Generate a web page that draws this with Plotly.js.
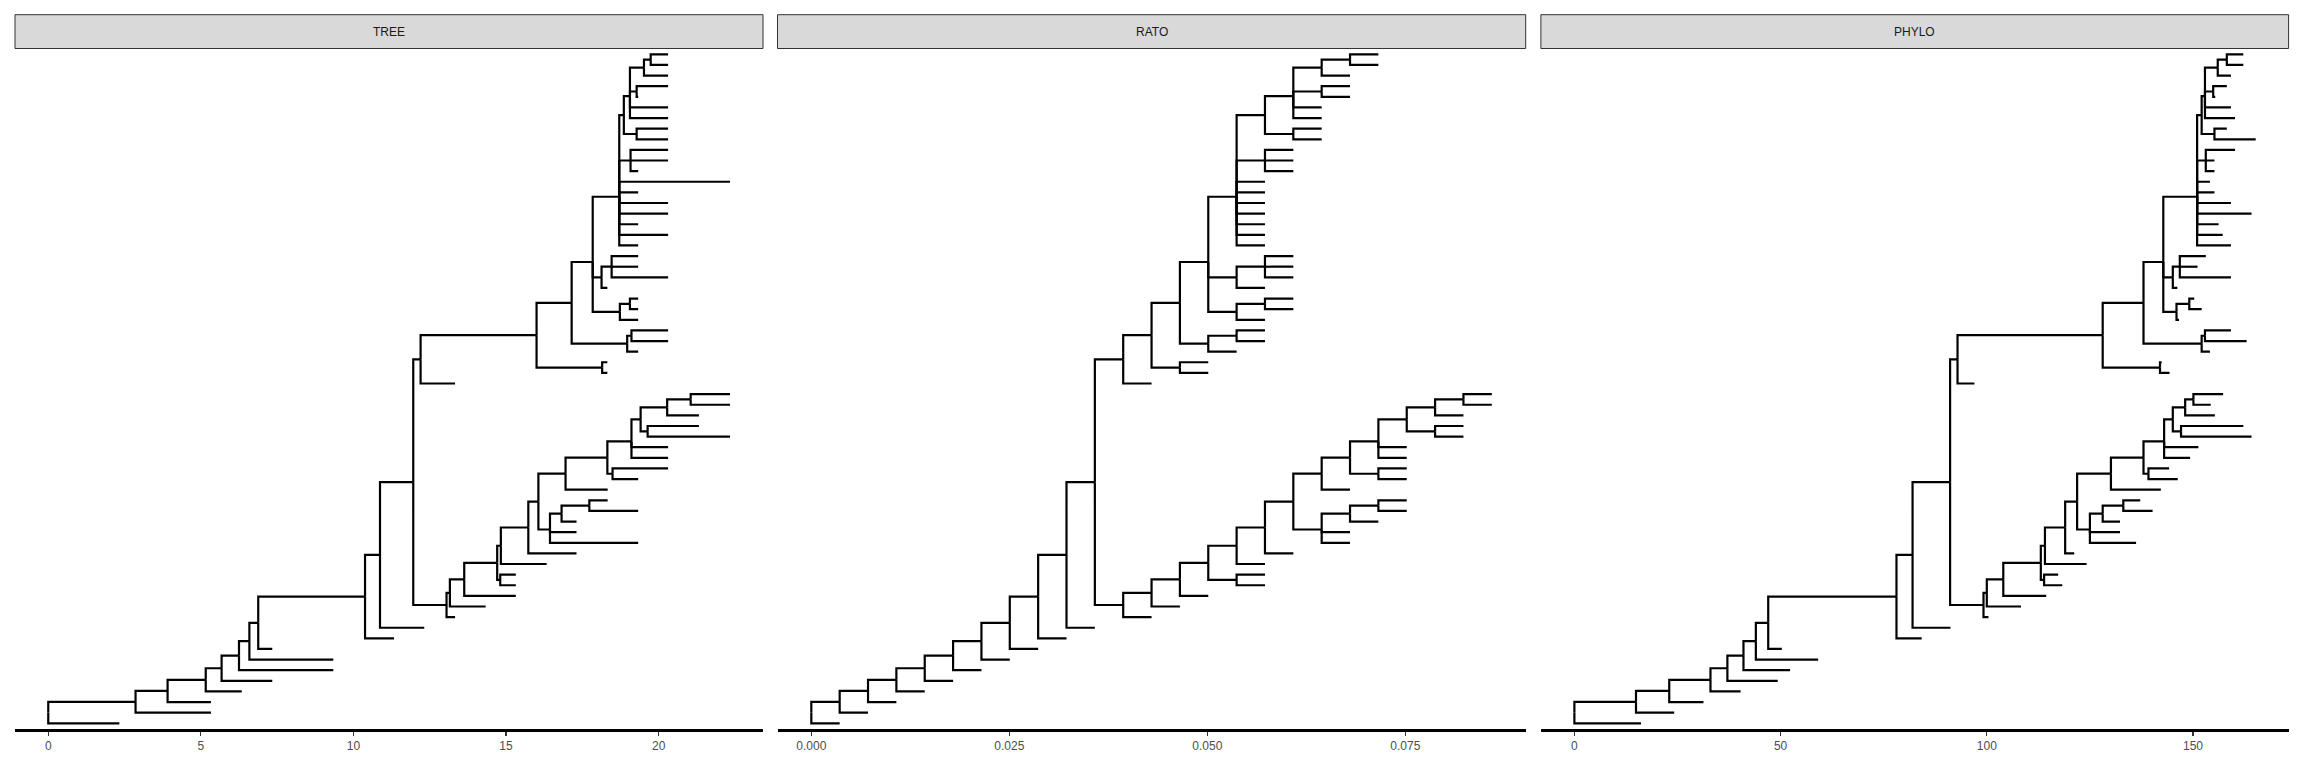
<!DOCTYPE html>
<html><head><meta charset="utf-8">
<script src="https://cdn.plot.ly/plotly-3.0.1.min.js"></script>
<style>html,body{margin:0;padding:0;background:#fff}</style>
</head><body><div id="chart" style="width:2304px;height:768px"></div>
<script>
// ---- tree topology (node name -> parent) ----
const nodes = [
'root','t1','A','t2','B','t3','C','t4','D','t5','E','t6','F','t7','G','t8','H','t9','I','t10','J',
'K','t11','L','t12','M','t13','N','O','t14','t15','P','t16','Q','t17','R','S','t18','t19','T','t20','n2122','t21','t22','W','t23','X','n2425','t24','t25','Y','t26','t27','Z','n2829','t28','t29','n3032','t30','n3132','t31','t32',
'V','t33','U','N968','t34','t35','N773','N896','t36','N872','t37','t38','N651','N801','t39','N778','t40','t41','N698','t42','N666','t43','t44','t45','N455','t46','t47','t48','t49','t50','t51','t52','N348','t53','t54','t55','N211','N268','t56','t57','N154','t58','t59','N140','t60','t61','N68','t62','N44','t63','t64'
];
const parents = [
'','root','root','A','A','B','B','C','C','D','D','E','E','F','F','G','G','H','H','I','I',
'J','K','K','L','L','M','M','N','O','O','N','P','P','Q','Q','R','S','S','S','T','T','n2122','n2122','R','W','W','X','n2425','n2425','X','Y','Y','Y','Z','n2829','n2829','Z','n3032','n3032','n3132','n3132',
'J','V','V','U','N968','N968','U','N773','N896','N896','N872','N872','N773','N651','N801','N801','N778','N778','N651','N698','N698','N666','N666','N666','N651','N455','N455','N455','N455','N455','N455','N455','N455','N348','N348','N348','N455','N211','N268','N268','N211','N154','N154','N154','N140','N140','N154','N68','N68','N44','N44'
];
// tips from bottom (y=1) to top
const tip_order = ['t1','t2','t3','t4','t5','t6','t7','t8','t9','t10','t11','t12','t13','t14','t15','t16','t17','t18','t19','t20','t21','t22','t23','t24','t25','t26','t27','t28','t29','t30','t31','t32','t33','t34','t35','t36','t37','t38','t39','t40','t41','t42','t43','t44','t45','t46','t47','t48','t49','t50','t51','t52','t53','t54','t55','t56','t57','t58','t59','t60','t61','t62','t63','t64'];

// ---- node x positions per panel ----
const tree_x = [
0,2.33,2.86,5.33,3.91,5.33,5.16,6.34,5.68,7.34,6.25,9.34,6.59,9.34,6.88,7.34,10.38,11.33,10.87,12.32,11.96,
13.05,13.33,13.16,14.33,13.63,15.32,14.71,14.81,15.32,15.32,14.83,16.33,15.73,17.31,16.06,16.44,19.33,17.31,16.82,17.31,17.73,19.33,18.33,16.95,18.33,18.32,18.49,19.33,20.31,19.11,20.31,20.31,19.41,19.64,22.34,21.32,20.28,21.32,21.05,22.34,22.34,
12.2,13.33,16.0,18.15,18.32,18.32,17.15,18.97,19.33,19.11,20.31,20.31,17.84,18.73,19.33,19.06,19.33,19.33,18.13,18.32,18.46,20.31,19.33,19.33,18.71,19.33,20.31,19.33,20.31,20.31,19.33,22.34,19.08,19.33,20.31,20.31,18.86,19.28,20.31,20.31,19.06,20.31,20.31,19.28,19.33,20.31,19.52,20.31,19.74,20.31,20.31
];
const rato_x = [
0,0.00358,0.00358,0.00716,0.00716,0.01074,0.01074,0.01432,0.01432,0.0179,0.0179,0.02148,0.02148,0.02506,0.02506,0.02864,0.02864,0.03222,0.03222,0.0358,0.0358,
0.03938,0.04296,0.04296,0.04654,0.04654,0.05012,0.05012,0.0537,0.05728,0.05728,0.0537,0.05728,0.05728,0.06086,0.06086,0.06444,0.06802,0.06802,0.06802,0.0716,0.0716,0.07518,0.07518,0.06444,0.06802,0.06802,0.0716,0.07518,0.07518,0.0716,0.07518,0.07518,0.07518,0.07876,0.08234,0.08234,0.07876,0.08234,0.08234,0.08592,0.08592,
0.03938,0.04296,0.04296,0.04654,0.05012,0.05012,0.04654,0.05012,0.0537,0.0537,0.05728,0.05728,0.05012,0.0537,0.05728,0.05728,0.06086,0.06086,0.0537,0.05728,0.05728,0.06086,0.06086,0.06086,0.0537,0.05728,0.05728,0.05728,0.05728,0.05728,0.05728,0.05728,0.05728,0.06086,0.06086,0.06086,0.05728,0.06086,0.06444,0.06444,0.06086,0.06444,0.06444,0.06444,0.06802,0.06802,0.06444,0.06802,0.06802,0.0716,0.0716
];
const phylo_x = [
0,16.15,14.94,24.2,23.0,31.3,33.0,40.3,37.1,49.3,41.0,52.3,44.0,59.1,47.0,50.3,78.1,84.2,82.0,91.2,91.1,
99.2,100.4,100.0,108.3,104.0,114.4,113.1,113.9,118.3,117.3,114.1,124.2,119.0,121.2,121.9,125.0,136.2,132.3,128.1,132.3,133.1,140.2,137.2,130.1,142.2,138.0,139.2,146.3,144.2,143.0,149.3,151.3,145.1,147.1,164.2,162.2,148.1,155.3,150.1,154.3,157.3,
92.9,97.0,128.1,142.0,144.3,142.4,138.0,152.1,154.1,152.9,163.0,159.2,142.8,146.0,146.6,149.1,152.1,150.3,145.1,146.2,146.8,159.2,151.1,153.1,151.0,159.2,157.2,156.2,164.2,159.2,155.2,154.1,153.1,155.2,155.2,160.2,152.1,155.2,165.2,158.2,152.9,160.2,159.2,154.9,155.4,158.2,156.0,159.2,158.2,162.2,162.2
];

const panels = ['TREE','RATO','PHYLO'];
const tick_vals = [[0,5,10,15,20],[0,0.025,0.05,0.075],[0,50,100,150]];
const tick_text = [['0','5','10','15','20'],['0.000','0.025','0.050','0.075'],['0','50','100','150']];

// ---- layout helpers (pixel geometry) ----
const W = 2304, H = 768;
const panelPx = [[15,763],[777.5,1525.7],[1540.9,2288.6]];
const xRanges = [[-1.09,23.42],[-0.00427,0.0902],[-8.12,173.18]];
const plotTop = 48.5, plotBottom = 729.3, stripTop = 14.7;

// ---- compute y coordinates ----
const idx = {}; nodes.forEach((n,i)=>idx[n]=i);
const children = nodes.map(()=>[]);
parents.forEach((p,i)=>{ if(p!=='') children[idx[p]].push(i); });
const yv = new Array(nodes.length);
function gy(i){
  if(yv[i]!==undefined) return yv[i];
  if(children[i].length===0){ yv[i] = tip_order.indexOf(nodes[i]) + 1; }
  else { const c = children[i].map(gy); yv[i] = c.reduce((a,b)=>a+b,0)/c.length; }
  return yv[i];
}
nodes.forEach((n,i)=>gy(i));

const xsets = [tree_x, rato_x, phylo_x];
const traces = [];
const layout = {
  width: W, height: H, margin:{l:0,r:0,t:0,b:0},
  paper_bgcolor:'#ffffff', plot_bgcolor:'#ffffff', showlegend:false, hovermode:false,
  shapes:[], annotations:[]
};
const yDom = [(H-plotBottom)/H, (H-plotTop)/H];
for(let p=0;p<3;p++){
  const X = xsets[p];
  const xs=[], ys=[];
  nodes.forEach((n,i)=>{
    if(parents[i]==='') return;
    const pi = idx[parents[i]];
    xs.push(X[pi], X[pi], X[i], null);
    ys.push(yv[pi], yv[i], yv[i], null);
  });
  const sfx = p===0 ? '' : String(p+1);
  traces.push({type:'scatter', mode:'lines', x:xs, y:ys, xaxis:'x'+sfx, yaxis:'y'+sfx,
    line:{color:'#000000', width:2.2}, hoverinfo:'skip', connectgaps:false});
  layout['xaxis'+sfx] = {
    domain:[panelPx[p][0]/W, panelPx[p][1]/W], range:xRanges[p], anchor:'y'+sfx,
    showgrid:false, zeroline:false, showline:true, linecolor:'#000000', linewidth:2.2,
    ticks:'outside', ticklen:4, tickwidth:1.1, tickcolor:'#333333',
    tickvals:tick_vals[p], ticktext:tick_text[p],
    tickfont:{family:'Liberation Sans, Arial, sans-serif', size:12, color:'#4d4d4d'},
    fixedrange:true
  };
  layout['yaxis'+sfx] = {
    domain:yDom, range:[0.435, 64.55], anchor:'x'+sfx, visible:false,
    showgrid:false, zeroline:false, fixedrange:true
  };
  layout.shapes.push({type:'rect', xref:'paper', yref:'paper',
    x0:panelPx[p][0]/W, x1:panelPx[p][1]/W, y0:(H-plotTop)/H, y1:(H-stripTop)/H,
    fillcolor:'#d9d9d9', line:{color:'#333333', width:1}});
  layout.annotations.push({xref:'paper', yref:'paper',
    x:(panelPx[p][0]+panelPx[p][1])/2/W, y:(H-(plotTop+stripTop)/2)/H,
    text:panels[p], showarrow:false, xanchor:'center', yanchor:'middle',
    font:{family:'Liberation Sans, Arial, sans-serif', size:12, color:'#1a1a1a'}});
}
Plotly.newPlot('chart', traces, layout, {staticPlot:true, displayModeBar:false});
</script>
</body></html>
